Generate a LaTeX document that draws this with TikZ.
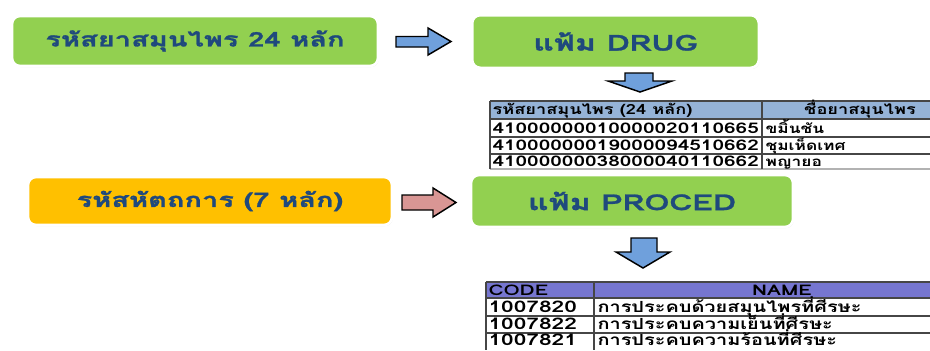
\documentclass[tikz,border=0pt]{standalone}
\usepackage{fontspec}
\newfontfamily\thaifont[Script=Thai,FakeStretch=1.45,BoldFeatures={FakeBold=1.2}]{Loma}
\newfontfamily\thaiwide[Script=Thai,FakeStretch=1.3]{Loma}
\newfontfamily\thaiwider[Script=Thai,FakeStretch=1.42]{Loma}
\usetikzlibrary{shadows}

\definecolor{boxgreen}{RGB}{146,208,80}
\definecolor{boxgold}{RGB}{255,192,0}
\definecolor{titleblue}{RGB}{31,73,125}
\definecolor{arrowblue}{RGB}{111,160,220}
\definecolor{arrowpink}{RGB}{217,150,148}
\definecolor{headblue}{RGB}{149,179,215}
\definecolor{headviolet}{RGB}{118,118,208}
\definecolor{gridgray}{RGB}{70,70,70}

\tikzset{every picture/.style={line width=0.75pt}}
\tikzset{
  filebox/.style={rounded corners=6pt, draw=white, line width=2pt, fill=boxgreen,
    text=titleblue, font=\thaifont\bfseries\fontsize{15}{18}\selectfont,
    drop shadow={opacity=0.25, shadow xshift=0.6pt, shadow yshift=-0.8pt}},
  blockarrow/.style={draw=black, line width=1.1pt, line join=miter},
  tablegrid/.style={draw=gridgray, line width=0.9pt},
  cellleft/.style={anchor=base west, inner sep=0pt, font=\thaiwide\bfseries\fontsize{10.5}{12}\selectfont},
  cellmid/.style={anchor=base, inner sep=0pt, font=\thaiwide\bfseries\fontsize{10.5}{12}\selectfont},
  cellnum/.style={anchor=base west, inner sep=0pt, font=\thaiwider\bfseries\fontsize{11}{12}\selectfont},
}

\begin{document}
\begin{tikzpicture}[x=0.75pt,y=0.75pt,yscale=-1,xscale=1]
	\useasboundingbox (0,0) rectangle (930,350);

	% Box: herb code
	\node [filebox, minimum width=274.5pt, minimum height=37.5pt] (herbcode) at (195,41) {รหัสยาสมุนไพร 24 หลัก};
	% Box: DRUG file
	\node [filebox, minimum width=215pt, minimum height=39.5pt, font=\thaifont\bfseries\fontsize{16.5}{18}\selectfont] (drugfile) at (615.5,41.5) {แฟ้ม DRUG};
	% Box: procedure code
	\node [filebox, fill=boxgold, minimum width=273pt, minimum height=36pt] (proccode) at (210,201) {รหัสหัตถการ (7 หลัก)};
	% Box: PROCED file
	\node [filebox, minimum width=241.5pt, minimum height=39pt, font=\thaifont\bfseries\fontsize{16.5}{18}\selectfont] (procfile) at (632,201) {แฟ้ม PROCED};

	%Shape: Right Arrow
	\draw [blockarrow, fill=arrowblue] (396,36.5) -- (428,36.5) -- (428,28) -- (451,41.5) -- (428,55) -- (428,47) -- (396,47) -- cycle ;
	%Shape: Right Arrow
	\draw [blockarrow, fill=arrowpink] (402,195) -- (433,195) -- (433,188) -- (456,202.5) -- (433,217) -- (433,210) -- (402,210) -- cycle ;
	%Shape: Down Arrow
	\draw [blockarrow, fill=arrowblue] (625,73) -- (653,73) -- (653,81) -- (672,81) -- (640,92) -- (608,81) -- (625,81) -- cycle ;
	%Shape: Down Arrow
	\draw [blockarrow, fill=arrowblue] (631,238) -- (657,238) -- (657,252) -- (670,252) -- (643,268) -- (616,252) -- (631,252) -- cycle ;

	\begin{scope}
	\clip (0,0) rectangle (930,350);
	%Table: herb list
	\fill [headblue] (490,101) rectangle (960,119);
	\draw [tablegrid] (490,101) -- (960,101) (490,119) -- (960,119) (490,137) -- (960,137) (490,154) -- (960,154);
	\draw [draw=gray!60, line width=2pt] (490,169) -- (960,169);
	\draw [tablegrid] (490,101) -- (490,169) (762,101) -- (762,169);

	% Text Node
	\node [cellleft] (herbhead) at (492,114.5) {รหัสยาสมุนไพร (24 หลัก)};
	\node [cellmid] (namehead) at (860,114.5) {ชื่อยาสมุนไพร};
	\node [cellnum] (herbone) at (492,133) {41000000010000020110665};
	\node [cellnum] (herbtwo) at (492,150.5) {41000000019000094510662};
	\node [cellnum] (herbthree) at (492,166) {41000000038000040110662};
	\node [cellleft, font=\thaiwide\bfseries\fontsize{10}{12}\selectfont] (nameone) at (765,133) {ขมิ้นชัน};
	\node [cellleft, font=\thaiwide\bfseries\fontsize{10}{12}\selectfont] (nametwo) at (765,150.5) {ชุมเห็ดเทศ};
	\node [cellleft, font=\thaiwide\bfseries\fontsize{10}{12}\selectfont] (namethree) at (765,166) {พญายอ};

	%Table: procedure list
	\fill [headviolet] (486,282) rectangle (970,298);
	\draw [tablegrid] (486,282) -- (970,282) (486,298) -- (970,298) (486,316) -- (970,316) (486,333) -- (970,333);
	\draw [tablegrid] (486,282) -- (486,350) (594,282) -- (594,350);

	% Text Node
	\node [cellnum] (codehead) at (488,295) {CODE};
	\node [cellnum, anchor=base] (titlehead) at (782,295) {NAME};
	\node [cellnum, font=\thaiwider\bfseries\fontsize{12}{12}\selectfont] (codeone) at (488,312.5) {1007820};
	\node [cellnum, font=\thaiwider\bfseries\fontsize{12}{12}\selectfont] (codetwo) at (488,329.5) {1007822};
	\node [cellnum, font=\thaiwider\bfseries\fontsize{12}{12}\selectfont] (codethree) at (488,345) {1007821};
	\node [cellleft, font=\thaiwide\bfseries\fontsize{11.5}{12}\selectfont] (procone) at (597,312.5) {การประคบด้วยสมุนไพรที่ศีรษะ};
	\node [cellleft, font=\thaiwide\bfseries\fontsize{11.5}{12}\selectfont] (proctwo) at (597,329.5) {การประคบความเย็นที่ศีรษะ};
	\node [cellleft, font=\thaiwide\bfseries\fontsize{11.5}{12}\selectfont] (procthree) at (597,345) {การประคบความร้อนที่ศีรษะ};
	\end{scope}

\end{tikzpicture}
\end{document}
